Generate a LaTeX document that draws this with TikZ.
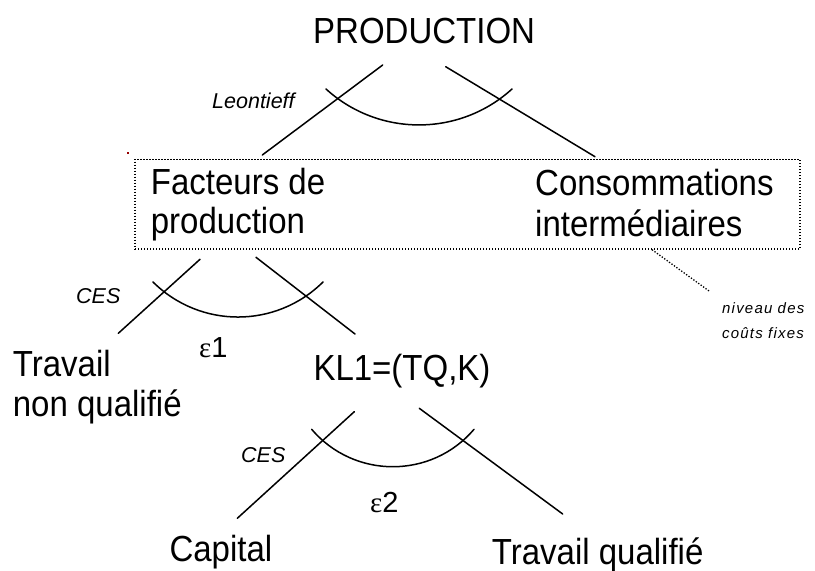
\documentclass[tikz,border=0pt]{standalone}
\usepackage{fontspec}
\setmainfont{Liberation Sans}
\newfontfamily\spacedfont[LetterSpace=8]{Liberation Sans}
\newfontfamily\greekfont{Liberation Serif}
\usetikzlibrary{calc}
\newcommand\mainsz{\fontsize{33}{40}\selectfont}
\newcommand\epssz{\fontsize{29}{32}\selectfont}
\newcommand\smallsz{\fontsize{21.5}{24}\selectfont\itshape}
\newcommand\notesz{\spacedfont\fontsize{15}{25}\selectfont\itshape}
\newcommand\vst[1]{\scalebox{1}[1.1]{#1}}
\newcommand\eps{{\greekfont ε}}
\definecolor{dotred}{RGB}{150,0,0}
\begin{document}
\begin{tikzpicture}[x=1pt,y=-1pt,
  txt/.style={inner sep=0pt, anchor=base west, font=\mainsz},
  epsl/.style={inner sep=0pt, anchor=base west, font=\epssz},
  lab/.style={inner sep=0pt, anchor=base west, font=\smallsz},
  note/.style={inner sep=0pt, anchor=base west, font=\notesz},
  fork/.style={line width=1.5pt, line cap=round},
  dotline/.style={line width=1.3pt, dash pattern=on 1.3pt off 1.7pt}]
\useasboundingbox (0,0) rectangle (815,571);
\fill[white] (0,0) rectangle (815,571);

% texts
\node[txt] (prod) at (313,43.3) {\vst{PRODUCTION}};
\node[lab] (leon) at (212,108.3) {Leontieff};
\node[txt] (fact) at (150.7,194) {\vst{\begin{tabular}[t]{@{}l@{}}Facteurs de\\[-4.5pt]production\end{tabular}}};
\node[txt] (cons) at (535,195) {\vst{\begin{tabular}[t]{@{}l@{}}Consommations\\[-2.7pt]intermédiaires\end{tabular}}};
\node[lab] (ces1) at (76,303) {CES};
\node[epsl] (eps1) at (199,357) {\eps1};
\node[txt] (tnq) at (12.7,376) {\vst{\begin{tabular}[t]{@{}l@{}}Travail\\[-3.6pt]non qualifié\end{tabular}}};
\node[txt] (kl) at (313.3,380) {\vst{KL1=(TQ,K)}};
\node[lab] (ces2) at (241,462) {CES};
\node[epsl] (eps2) at (370,512) {\eps2};
\node[txt] (cap) at (169.3,561.7) {\vst{Capital}};
\node[txt] (tq) at (491.7,564) {\vst{Travail qualifié}};
\node[note] (niv) at (722,313) {\begin{tabular}[t]{@{}l@{}}niveau des\\coûts fixes\end{tabular}};

% dotted box and leader
\node[draw, dotline, inner sep=0pt, minimum width=665pt, minimum height=89.7pt] (box) at (467.5,204.2) {};
\coordinate (leadA) at ($(box.south west)!0.777!(box.south east)$);
\coordinate (leadB) at (710,291.7);
\draw[dotline] (leadA) -- (leadB);
\fill[dotred] (127.4,152.4) rectangle (129.4,154.4);

% top fork
\coordinate (t1) at (382.7,65);  \coordinate (t2) at (262.3,155);
\coordinate (t3) at (445.7,66.7); \coordinate (t4) at (595,156.7);
\coordinate (ta) at (326,89);    \coordinate (tb) at (512,89);
\draw[fork] (t1) -- (t2);
\draw[fork] (t3) -- (t4);
\draw[fork] (ta) .. controls (378.7,136.9) and (459.3,136.9) .. (tb);

% middle fork
\coordinate (m1) at (200,259.3); \coordinate (m2) at (118.3,333.3);
\coordinate (m3) at (256,257.3); \coordinate (m4) at (355,334);
\coordinate (ma) at (153,282);   \coordinate (mb) at (323,282);
\draw[fork] (m1) -- (m2);
\draw[fork] (m3) -- (m4);
\draw[fork] (ma) .. controls (200.1,328.7) and (275.9,328.7) .. (mb);

% lower fork
\coordinate (l1) at (354.3,411.7); \coordinate (l2) at (237.3,518.3);
\coordinate (l3) at (419.3,408.3); \coordinate (l4) at (562.7,514);
\coordinate (la) at (311.7,429.3); \coordinate (lb) at (474,429.3);
\draw[fork] (l1) -- (l2);
\draw[fork] (l3) -- (l4);
\draw[fork] (la) .. controls (354.1,479.2) and (431.6,479.2) .. (lb);
\end{tikzpicture}
\end{document}
